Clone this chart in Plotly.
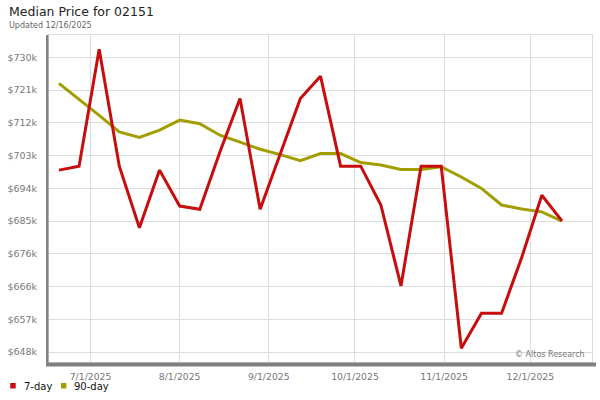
import plotly.graph_objects as go

# ---- data ----
dates = ["2025-06-20", "2025-06-27", "2025-07-04", "2025-07-11", "2025-07-18", "2025-07-25",
         "2025-08-01", "2025-08-08", "2025-08-15", "2025-08-22", "2025-08-29", "2025-09-05",
         "2025-09-12", "2025-09-19", "2025-09-26", "2025-10-03", "2025-10-10", "2025-10-17",
         "2025-10-24", "2025-10-31", "2025-11-07", "2025-11-14", "2025-11-21", "2025-11-28",
         "2025-12-05", "2025-12-12"]
price_7day = [698800, 699900, 732400, 699900, 682800, 698800, 688800, 687900, 703800, 718700,
              687900, 703500, 718700, 724900, 699900, 699900, 689100, 666600, 699900, 699900,
              649300, 659000, 659000, 674500, 691800, 684700]
price_90day = [722900, 718500, 714000, 709400, 707900, 709900, 712700, 711700, 708500, 706600,
               704600, 703100, 701400, 703400, 703400, 700900, 700200, 699000, 699000, 699700,
               696900, 693700, 689100, 688000, 687200, 684600]
y_tick_values = [648250, 657350, 666450, 675550, 684650, 693750, 702850, 711950, 721050, 730150]
y_tick_labels = ["$648k", "$657k", "$666k", "$676k", "$685k", "$694k", "$703k", "$712k", "$721k", "$730k"]
x_tick_values = ["2025-07-01", "2025-08-01", "2025-09-01", "2025-10-01", "2025-11-01", "2025-12-01"]
x_tick_labels = ["7/1/2025", "8/1/2025", "9/1/2025", "10/1/2025", "11/1/2025", "12/1/2025"]
series_names = ["7-day", "90-day"]
colors = ["#c80d0d", "#a39e00"]

# ---- layout geometry (pixels) ----
L, R, T, B = 47, 593, 35, 362
W, H = R - L, B - T


def px(x):
    return (x - L) / W


def py(y):
    return (B - y) / H


fig = go.Figure()
fig.add_trace(go.Scatter(x=dates, y=price_90day, mode="lines", name=series_names[1],
                         line=dict(color=colors[1], width=3), showlegend=False))
fig.add_trace(go.Scatter(x=dates, y=price_7day, mode="lines", name=series_names[0],
                         line=dict(color=colors[0], width=3), showlegend=False))

font = "DejaVu Sans"
fig.update_layout(
    width=600, height=400,
    margin=dict(l=L, r=600 - R, t=T, b=400 - B),
    paper_bgcolor="white", plot_bgcolor="white",
    font=dict(family=font, color="#777777"),
    showlegend=False,
    xaxis=dict(
        type="date",
        range=["2025-06-16 13:00", "2025-12-22 11:00"],
        tickvals=x_tick_values, ticktext=x_tick_labels,
        showgrid=True, gridcolor="#dddddd", gridwidth=1,
        showline=True, mirror=True, linecolor="#dddddd", linewidth=1,
        zeroline=False, ticks="", ticklabelstandoff=6,
        tickfont=dict(size=9.3, color="#777777", family=font),
    ),
    yaxis=dict(
        range=[645470, 736350],
        tickvals=y_tick_values, ticktext=y_tick_labels,
        showgrid=True, gridcolor="#dddddd", gridwidth=1,
        showline=True, mirror=True, linecolor="#dddddd", linewidth=1,
        zeroline=False, ticks="", ticklabelstandoff=9,
        tickfont=dict(size=9.5, color="#777777", family=font),
    ),
)

shapes = [
    # thick left and bottom frame bars
    dict(type="rect", xref="paper", yref="paper", x0=px(44), x1=px(46.5), y0=py(366), y1=py(35),
         fillcolor="#808080", line=dict(width=0), layer="above"),
    dict(type="rect", xref="paper", yref="paper", x0=px(44), x1=px(597), y0=py(366.5), y1=py(362.5),
         fillcolor="#808080", line=dict(width=0), layer="above"),
    # legend squares
    dict(type="rect", xref="paper", yref="paper", x0=px(8), x1=px(13.5), y0=py(388.5), y1=py(383),
         fillcolor=colors[0], line=dict(width=0)),
    dict(type="rect", xref="paper", yref="paper", x0=px(59), x1=px(64.5), y0=py(388.5), y1=py(383),
         fillcolor=colors[1], line=dict(width=0)),
]
fig.update_layout(shapes=shapes)

annotations = [
    dict(text="Median Price for 02151", x=px(6), y=py(12), xanchor="left", yanchor="middle",
         font=dict(size=12.5, color="#222222", family=font)),
    dict(text="Updated 12/16/2025", x=px(6), y=py(25), xanchor="left", yanchor="middle",
         font=dict(size=8, color="#666666", family=font)),
    dict(text="© Altos Research", x=px(587), y=py(354), xanchor="right", yanchor="middle",
         font=dict(size=8, color="#777777", family=font)),
    dict(text=series_names[0], x=px(20.5), y=py(386), xanchor="left", yanchor="middle",
         font=dict(size=10, color="#111111", family=font)),
    dict(text=series_names[1], x=px(71.5), y=py(386), xanchor="left", yanchor="middle",
         font=dict(size=10, color="#111111", family=font)),
]
for a in annotations:
    a.update(xref="paper", yref="paper", showarrow=False, borderpad=0)
fig.update_layout(annotations=annotations)

fig.write_html("out.html", config={"displayModeBar": False},
               post_script="document.body.style.margin='0';document.body.style.padding='0';")
